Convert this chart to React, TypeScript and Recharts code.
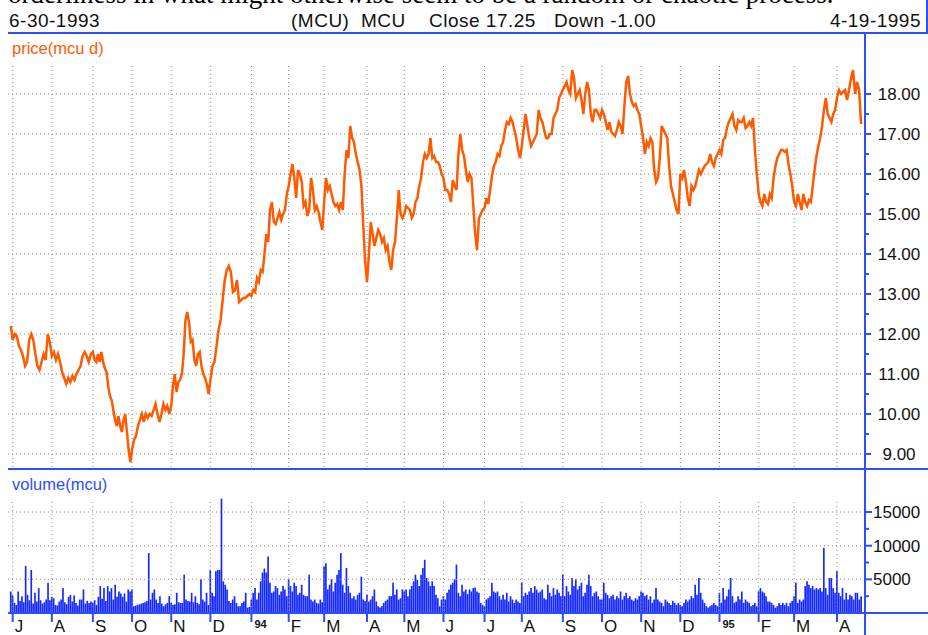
import React from 'react';
import { ComposedChart, Line, Bar, XAxis, YAxis, ReferenceLine } from 'recharts';

const BLUE = '#2b4eff';
const ORANGE = '#ff5a00';
const BAR_BLUE = '#1428ff';
const GRID = '#8a8a8a';
const FONT = '"Liberation Sans", Arial, sans-serif';

// trading days per month, first entry is the single day of 6-30-1993
const MONTH_DAYS = [1, 21, 22, 21, 21, 21, 22, 20, 19, 23, 20, 21, 22, 20, 22, 21, 21, 21, 21, 21, 19, 23, 14];
const MONTH_LABELS = ['J', 'A', 'S', 'O', 'N', 'D', '94', 'F', 'M', 'A', 'M', 'J', 'J', 'A', 'S', 'O', 'N', 'D', '95', 'F', 'M', 'A'];

const PRICE_TICKS = [9, 9.5, 10, 10.5, 11, 11.5, 12, 12.5, 13, 13.5, 14, 14.5, 15, 15.5, 16, 16.5, 17, 17.5, 18];
const VOLUME_TICKS = [2.5, 5, 7.5, 10, 12.5, 15]; // thousands

// price(mcu d), read per month
const priceJun93 = [12.2];
const priceJul93 = [11.85, 12.0, 11.95, 11.7, 11.6, 11.45, 11.2, 11.3, 11.85, 12.0, 11.85, 11.5, 11.2, 11.1, 11.3, 11.5, 11.35, 12.0, 11.8];
const priceAug93 = [11.45, 11.55, 11.35, 11.5, 11.3, 11.05, 10.9, 10.75, 10.9, 10.8, 10.95, 10.85, 11.0, 11.1, 11.2, 11.45, 11.55, 11.45, 11.3, 11.5];
const priceSep93 = [11.55, 11.35, 11.3, 11.5, 11.3, 11.55, 11.3, 11.15, 11.05, 10.7, 10.45, 10.35, 10.1, 9.85, 9.7, 9.95, 9.7, 9.55, 9.85, 10.0, 9.55, 9.1, 8.8];
const priceOct93 = [9.1, 9.35, 9.45, 9.7, 9.85, 10.0, 9.8, 10.0, 9.9, 10.0, 9.95, 10.1, 10.25, 10.0, 9.8, 10.0, 10.25, 10.1, 10.2, 10.0];
const priceNov93 = [10.2, 10.7, 11.0, 10.55, 10.8, 10.85, 11.0, 11.5, 12.35, 12.55, 12.3, 11.8, 11.85, 11.35, 11.2, 11.5, 11.55, 11.2, 11.0, 10.9, 10.75, 10.5];
const priceDec93 = [10.85, 11.2, 11.3, 11.7, 12.1, 12.35, 12.85, 13.35, 13.6, 13.7, 13.55, 13.05, 13.1, 13.35, 12.8, 12.85, 12.9, 12.9, 12.95, 13.0];
const priceJan94 = [12.95, 13.1, 13.05, 13.4, 13.3, 13.6, 13.55, 14.0, 14.5, 14.3, 15.1, 15.3, 14.8, 14.75, 14.9, 15.05, 14.85, 15.0, 15.1, 15.5];
const priceFeb94 = [15.7, 16.0, 16.25, 15.9, 15.4, 16.1, 16.0, 15.8, 15.2, 15.3, 14.95, 15.1, 15.9, 15.6, 15.1, 15.2, 15.05, 14.8, 14.6];
const priceMar94 = [15.3, 15.9, 15.6, 15.7, 15.5, 15.3, 15.2, 15.25, 15.1, 15.3, 15.1, 16.0, 16.6, 16.4, 17.2, 16.9, 16.8, 16.5, 16.3, 16.1, 15.7, 14.7, 13.8];
const priceApr94 = [13.3, 14.0, 14.8, 14.5, 14.2, 14.4, 14.6, 14.5, 14.3, 14.4, 14.1, 14.2, 13.8, 13.6, 14.1, 14.3, 14.9, 15.6, 15.0, 14.9];
const priceMay94 = [15.0, 15.2, 15.15, 15.1, 14.9, 15.0, 15.3, 15.4, 15.7, 15.9, 16.3, 16.5, 16.4, 16.5, 16.9, 16.4, 16.45, 16.3, 16.3, 16.2, 16.0];
const priceJun94 = [15.9, 15.6, 15.6, 15.5, 15.3, 15.85, 15.7, 15.6, 16.5, 17.0, 16.6, 16.45, 16.1, 15.8, 16.0, 15.9, 15.2, 14.5, 14.1, 14.9, 15.0, 15.1];
const priceJul94 = [15.15, 15.4, 15.25, 15.6, 15.95, 16.2, 16.3, 16.5, 16.45, 16.7, 16.8, 17.1, 17.3, 17.25, 17.4, 17.3, 17.1, 16.9, 16.6, 16.4];
const priceAug94 = [16.7, 17.1, 17.5, 17.2, 16.9, 16.7, 16.8, 16.9, 17.0, 17.6, 17.4, 17.3, 17.1, 16.9, 16.9, 17.0, 17.0, 17.4, 17.5, 17.6, 17.9, 18.0];
const priceSep94 = [18.1, 18.2, 18.3, 18.1, 18.0, 18.6, 18.4, 17.9, 18.0, 18.1, 17.85, 17.5, 18.0, 18.3, 18.1, 17.5, 17.3, 17.6, 17.6, 17.5, 17.4];
const priceOct94 = [17.6, 17.5, 17.3, 17.1, 17.3, 17.05, 17.0, 16.95, 17.1, 17.3, 17.2, 17.0, 17.7, 18.3, 18.45, 18.0, 17.8, 17.7, 17.75, 17.6, 17.5];
const priceNov94 = [17.2, 16.9, 16.5, 16.8, 16.7, 16.9, 16.8, 16.1, 15.8, 15.9, 16.4, 17.2, 17.1, 17.0, 16.9, 16.2, 15.7, 15.5, 15.3, 15.1, 15.0];
const priceDec94 = [16.0, 15.9, 16.1, 15.8, 15.4, 15.2, 15.7, 15.6, 15.7, 15.9, 16.1, 16.0, 16.1, 16.2, 16.25, 16.3, 16.5, 16.3, 16.2, 16.4, 16.5];
const priceJan95 = [16.6, 16.5, 16.85, 16.9, 17.15, 17.3, 17.4, 17.5, 17.2, 17.1, 17.35, 17.3, 17.3, 17.4, 17.15, 17.2, 17.3, 17.2, 17.4, 16.6, 16.0];
const priceFeb95 = [15.5, 15.3, 15.2, 15.5, 15.3, 15.25, 15.5, 15.4, 15.9, 16.2, 16.4, 16.5, 16.6, 16.6, 16.55, 16.6, 16.25, 16.0, 15.7];
const priceMar95 = [15.3, 15.2, 15.5, 15.3, 15.1, 15.5, 15.3, 15.2, 15.35, 15.3, 15.7, 16.1, 16.45, 16.7, 16.9, 17.2, 17.6, 17.9, 17.5, 17.4, 17.3, 17.5, 17.6];
const priceApr95 = [17.9, 18.1, 18.0, 18.05, 18.1, 17.85, 18.1, 18.4, 18.6, 18.0, 18.3, 18.1, 17.25];

// volume(mcu), thousands of contracts per day
const volJun93 = [3.2];
const volJul93 = [2.6, 1.5, 1.2, 3.2, 1.8, 2.5, 1.6, 7.0, 2.7, 1.9, 6.4, 1.4, 3.0, 1.7, 3.7, 1.9, 1.4, 1.6, 2.0, 4.5, 1.9];
const volAug93 = [2.4, 2.2, 1.2, 1.1, 1.7, 2.0, 3.7, 1.6, 1.3, 2.4, 2.7, 1.7, 2.6, 1.5, 1.1, 2.0, 2.0, 3.5, 1.4, 1.8, 1.5, 1.7];
const volSep93 = [1.5, 1.9, 1.2, 2.4, 4.0, 2.1, 3.7, 1.8, 4.0, 3.2, 3.7, 2.0, 4.2, 2.4, 3.2, 2.9, 2.4, 2.9, 1.7, 3.5, 3.2];
const volOct93 = [3.5, 1.0, 1.1, 1.2, 1.3, 1.4, 1.5, 1.6, 1.8, 8.9, 2.0, 3.0, 3.5, 2.0, 1.5, 2.5, 1.4, 1.0, 1.3, 1.5, 2.5];
const volNov93 = [1.5, 1.2, 1.3, 3.0, 1.6, 1.5, 1.5, 5.7, 2.0, 1.8, 1.7, 3.0, 1.6, 2.5, 1.5, 1.3, 5.0, 2.0, 1.7, 3.0, 1.2];
const volDec93 = [6.4, 3.0, 2.5, 6.2, 6.4, 6.4, 17.0, 4.7, 4.2, 3.5, 1.8, 1.5, 2.0, 2.5, 1.5, 1.0, 1.0, 1.5, 1.7, 3.0, 0.8, 0.9];
const volJan94 = [2.0, 3.0, 3.7, 2.0, 3.0, 4.7, 6.0, 6.6, 6.0, 8.4, 4.5, 3.0, 3.2, 4.0, 3.7, 2.7, 3.2, 4.0, 3.5, 2.5];
const volFeb94 = [5.0, 4.0, 3.2, 4.5, 4.0, 2.7, 3.0, 4.2, 2.7, 2.5, 2.5, 5.7, 2.0, 1.7, 2.0, 1.5, 1.4, 2.0, 1.6];
const volMar94 = [6.9, 7.4, 3.5, 4.2, 5.0, 3.2, 4.5, 5.7, 6.4, 8.9, 4.2, 3.0, 6.7, 4.0, 3.0, 2.2, 2.5, 2.0, 2.7, 3.0, 5.4, 2.0, 1.8];
const volApr94 = [2.7, 1.7, 2.0, 2.5, 3.5, 1.7, 1.0, 0.8, 1.0, 1.5, 1.8, 2.0, 2.5, 2.5, 4.5, 2.7, 3.5, 2.0, 2.2, 3.5];
const volMay94 = [3.2, 3.5, 2.5, 3.5, 4.0, 4.7, 5.7, 4.9, 4.0, 5.7, 6.7, 7.9, 5.2, 4.7, 4.0, 4.7, 4.0, 2.7, 2.2, 1.0, 2.0];
const volJun94 = [2.5, 2.0, 3.0, 3.5, 4.2, 4.5, 5.0, 7.2, 3.0, 2.5, 4.2, 3.2, 3.5, 2.8, 3.5, 3.2, 3.7, 3.8, 3.2, 3.0, 1.5, 1.2];
const volJul94 = [1.0, 2.0, 2.2, 2.5, 4.5, 3.2, 3.0, 3.2, 2.5, 2.0, 2.7, 2.0, 3.0, 1.7, 2.5, 2.0, 1.5, 2.0, 1.7, 1.5];
const volAug94 = [4.5, 2.5, 3.0, 2.7, 3.2, 3.7, 3.0, 4.0, 3.5, 3.0, 3.2, 3.5, 2.2, 2.0, 4.2, 3.0, 2.5, 3.7, 2.7, 3.5, 3.0, 2.5];
const volSep94 = [5.7, 2.5, 4.0, 3.2, 2.7, 5.2, 4.0, 5.0, 3.5, 4.0, 4.5, 2.5, 3.0, 4.2, 5.7, 4.0, 2.5, 3.0, 3.2, 2.5, 2.0];
const volOct94 = [2.0, 4.5, 3.0, 2.7, 2.2, 2.5, 2.7, 2.0, 2.5, 2.2, 3.2, 2.0, 2.5, 3.0, 2.2, 2.5, 2.0, 1.8, 2.2, 2.0, 2.5];
const volNov94 = [3.2, 3.0, 2.5, 2.7, 2.0, 2.5, 1.5, 2.0, 3.7, 2.0, 1.7, 1.5, 1.0, 2.0, 1.7, 1.5, 1.2, 1.8, 1.5, 1.2, 1.5];
const volDec94 = [1.2, 1.0, 1.5, 2.0, 1.7, 2.0, 2.5, 2.2, 4.2, 2.7, 5.2, 3.0, 2.0, 1.5, 1.0, 0.8, 1.0, 1.2, 1.5, 1.2, 1.0];
const volJan95 = [3.0, 1.5, 3.7, 2.0, 2.5, 3.5, 5.2, 2.5, 1.5, 1.7, 2.5, 2.0, 3.2, 1.5, 2.0, 1.7, 1.5, 1.0, 1.2, 1.5, 1.0];
const volFeb95 = [3.2, 3.7, 3.2, 3.0, 2.5, 1.7, 1.7, 1.5, 1.2, 0.8, 1.0, 1.5, 1.2, 1.5, 1.2, 1.5, 1.0, 1.5, 1.8];
const volMar95 = [2.5, 4.5, 1.5, 2.0, 1.7, 2.0, 4.0, 4.7, 4.2, 3.7, 4.0, 3.5, 3.7, 3.5, 3.7, 3.2, 9.7, 3.7, 2.7, 5.2, 5.2, 3.7, 3.0];
const volApr95 = [6.2, 3.0, 2.5, 3.7, 2.0, 3.0, 2.0, 2.7, 2.5, 2.0, 3.0, 3.0, 2.0, 2.5];

const PRICE_BY_MONTH = [
  priceJun93, priceJul93, priceAug93, priceSep93, priceOct93, priceNov93, priceDec93,
  priceJan94, priceFeb94, priceMar94, priceApr94, priceMay94, priceJun94,
  priceJul94, priceAug94, priceSep94, priceOct94, priceNov94, priceDec94,
  priceJan95, priceFeb95, priceMar95, priceApr95,
];
const VOLUME_BY_MONTH = [
  volJun93, volJul93, volAug93, volSep93, volOct93, volNov93, volDec93,
  volJan94, volFeb94, volMar94, volApr94, volMay94, volJun94,
  volJul94, volAug94, volSep94, volOct94, volNov94, volDec94,
  volJan95, volFeb95, volMar95, volApr95,
];

const monthStart: number[] = [];
MONTH_DAYS.reduce((acc, d) => { monthStart.push(acc); return acc + d; }, 0);
const TICK_DAYS = monthStart.slice(1);

// spread each month's readings over its trading days
const spread = (byMonth: number[][], key: string) =>
  byMonth.flatMap((vals, m) => vals.map((v, k) => ({ day: monthStart[m] + (k * MONTH_DAYS[m]) / vals.length, [key]: v })));

const priceData = spread(PRICE_BY_MONTH, 'price');
const volumeData = spread(VOLUME_BY_MONTH, 'vol');

const X_DOMAIN: [number, number] = [-1.52, 458.02];

function PriceTick({ x, y, payload }: any) {
  const v = payload.value;
  const major = Number.isInteger(v);
  return (
    <g>
      <line x1={x} x2={x + (major ? 6 : 4)} y1={y} y2={y} stroke={BLUE} strokeWidth={2} />
      {major && (
        <text x={x + 34} y={y} dy="0.36em" textAnchor="middle" fontSize={17} fontFamily={FONT} fill="#111">
          {v.toFixed(2)}
        </text>
      )}
    </g>
  );
}

function VolumeTick({ x, y, payload }: any) {
  const v = payload.value;
  const major = v % 5 === 0;
  return (
    <g>
      <line x1={x} x2={x + (major ? 7 : 4)} y1={y} y2={y} stroke={BLUE} strokeWidth={2} />
      {major && (
        <text x={x + 8} y={y} dy="0.36em" textAnchor="start" fontSize={17} fontFamily={FONT} fill="#111">
          {v * 1000}
        </text>
      )}
    </g>
  );
}

function MonthTick({ x, y, payload }: any) {
  const label = MONTH_LABELS[TICK_DAYS.indexOf(payload.value)] ?? '';
  const year = /\d/.test(label);
  return (
    <g>
      <line x1={x} x2={x} y1={y} y2={y + 9} stroke={BLUE} strokeWidth={2} />
      <text x={x + (year ? 3 : 2)} y={year ? y + 15 : y + 19} fontSize={year ? 11 : 17}
        fontWeight={year ? 'bold' : 'normal'} fontFamily={FONT} fill="#111">
        {label}
      </text>
    </g>
  );
}

const dotted = { stroke: GRID, strokeDasharray: '1 3', strokeWidth: 1 };

export default function App() {
  return (
    <div style={{ position: 'absolute', left: 0, top: 0, width: 928, height: 635, background: '#fff', overflow: 'hidden' }}>
      <div style={{ position: 'absolute', left: 0, top: 33 }}>
        <ComposedChart width={928} height={436} data={priceData} margin={{ top: 0, right: 0, left: 8, bottom: 0 }}>
          <XAxis type="number" dataKey="day" domain={X_DOMAIN} allowDataOverflow hide />
          <YAxis orientation="right" width={63} domain={[8.625, 19.525]} allowDataOverflow
            ticks={PRICE_TICKS} interval={0} tick={<PriceTick />} tickLine={false} tickSize={0} tickMargin={0}
            axisLine={{ stroke: BLUE, strokeWidth: 2 }} />
          {PRICE_TICKS.filter(t => Number.isInteger(t)).map(t => (
            <ReferenceLine key={'h' + t} y={t} {...dotted} />
          ))}
          {TICK_DAYS.map(d => (
            <ReferenceLine key={'v' + d} segment={[{ x: d, y: 18.7 }, { x: d, y: 8.625 }]} {...dotted} />
          ))}
          <Line type="linear" dataKey="price" stroke={ORANGE} strokeWidth={2.5} strokeLinejoin="miter" dot={false} isAnimationActive={false} />
        </ComposedChart>
      </div>
      <div style={{ position: 'absolute', left: 0, top: 469 }}>
        <ComposedChart width={928} height={166} data={volumeData} margin={{ top: 0, right: 0, left: 8, bottom: 0 }}>
          <XAxis type="number" dataKey="day" domain={X_DOMAIN} allowDataOverflow ticks={TICK_DAYS} interval={0}
            tick={<MonthTick />} tickLine={false} tickSize={0} tickMargin={0} height={22}
            axisLine={{ stroke: BLUE, strokeWidth: 2 }} />
          <YAxis orientation="right" width={63} domain={[0, 21.39]} allowDataOverflow
            ticks={VOLUME_TICKS} interval={0} tick={<VolumeTick />} tickLine={false} tickSize={0} tickMargin={0}
            axisLine={{ stroke: BLUE, strokeWidth: 2 }} />
          {[5, 10, 15].map(t => (
            <ReferenceLine key={'h' + t} y={t} {...dotted} />
          ))}
          {TICK_DAYS.map(d => (
            <ReferenceLine key={'v' + d} segment={[{ x: d, y: 16.5 }, { x: d, y: 0 }]} {...dotted} />
          ))}
          <Bar dataKey="vol" fill={BAR_BLUE} barSize={2} isAnimationActive={false} />
        </ComposedChart>
      </div>
      <svg width={928} height={635} style={{ position: 'absolute', left: 0, top: 0, pointerEvents: 'none' }}>
        <text x={8} y={3} fontSize={27} fontFamily='"Liberation Serif", "Times New Roman", serif' fill="#000">
          orderliness in what might otherwise seem to be a random or chaotic process.
        </text>
        <g fontFamily={FONT} fontSize={19} letterSpacing={0.5} fill="#111">
          <text x={9} y={27}>6-30-1993</text>
          <text x={291} y={27}>(MCU)</text>
          <text x={361} y={27}>MCU</text>
          <text x={429} y={27}>Close 17.25</text>
          <text x={554} y={27}>Down -1.00</text>
          <text x={921} y={27} textAnchor="end">4-19-1995</text>
        </g>
        <line x1={8} x2={928} y1={33} y2={33} stroke={BLUE} strokeWidth={2} />
        <line x1={927} x2={927} y1={0} y2={33} stroke={BLUE} strokeWidth={2} />
        <line x1={8} x2={928} y1={469} y2={469} stroke={BLUE} strokeWidth={2} />
        <line x1={8} x2={928} y1={613} y2={613} stroke={BLUE} strokeWidth={2} />
        <line x1={865} x2={865} y1={33} y2={635} stroke={BLUE} strokeWidth={2} />
        <text x={12} y={54} fontSize={16.5} fontFamily={FONT} fill={ORANGE}>price(mcu d)</text>
        <text x={12} y={490} fontSize={16.5} fontFamily={FONT} fill={BLUE}>volume(mcu)</text>
      </svg>
    </div>
  );
}
